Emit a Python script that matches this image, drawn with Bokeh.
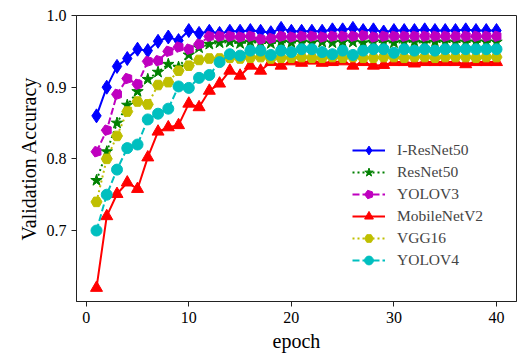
from bokeh.plotting import figure
from bokeh.models import Range1d, FixedTicker, Legend, LegendItem, ColumnDataSource, NumeralTickFormatter
from bokeh.embed import file_html
from bokeh.resources import INLINE

epochs = list(range(1, 41))

i_resnet50 = [0.860, 0.900, 0.929, 0.940, 0.953, 0.951, 0.964, 0.970, 0.965, 0.979,
              0.975, 0.978, 0.975, 0.978, 0.978, 0.979, 0.978, 0.976, 0.982, 0.978,
              0.978, 0.978, 0.978, 0.980, 0.980, 0.982, 0.979, 0.980, 0.977, 0.979,
              0.979, 0.979, 0.980, 0.979, 0.979, 0.979, 0.980, 0.979, 0.979, 0.979]
resnet50 = [0.770, 0.810, 0.850, 0.875, 0.894, 0.911, 0.921, 0.932, 0.928, 0.945,
            0.955, 0.960, 0.962, 0.963, 0.961, 0.963, 0.962, 0.961, 0.963, 0.962,
            0.963, 0.962, 0.963, 0.962, 0.963, 0.963, 0.962, 0.963, 0.963, 0.962,
            0.963, 0.963, 0.962, 0.963, 0.963, 0.963, 0.963, 0.963, 0.963, 0.963]
yolov3 = [0.810, 0.840, 0.890, 0.912, 0.904, 0.936, 0.937, 0.950, 0.956, 0.953,
          0.960, 0.971, 0.971, 0.971, 0.970, 0.971, 0.967, 0.968, 0.971, 0.970,
          0.971, 0.971, 0.970, 0.971, 0.971, 0.971, 0.972, 0.970, 0.971, 0.971,
          0.971, 0.971, 0.971, 0.971, 0.971, 0.971, 0.971, 0.971, 0.971, 0.971]
mobilenetv2 = [0.620, 0.720, 0.751, 0.767, 0.758, 0.802, 0.838, 0.844, 0.847, 0.877,
               0.872, 0.895, 0.905, 0.923, 0.916, 0.930, 0.923, 0.935, 0.930, 0.936,
               0.934, 0.937, 0.934, 0.935, 0.936, 0.930, 0.935, 0.930, 0.931, 0.935,
               0.935, 0.933, 0.935, 0.935, 0.935, 0.935, 0.932, 0.935, 0.935, 0.935]
vgg16 = [0.740, 0.800, 0.832, 0.866, 0.880, 0.876, 0.903, 0.907, 0.923, 0.930,
         0.938, 0.940, 0.940, 0.941, 0.940, 0.941, 0.942, 0.940, 0.941, 0.941,
         0.942, 0.941, 0.941, 0.942, 0.941, 0.942, 0.941, 0.941, 0.942, 0.942,
         0.941, 0.942, 0.942, 0.941, 0.942, 0.942, 0.942, 0.941, 0.942, 0.942]
yolov4 = [0.700, 0.750, 0.785, 0.815, 0.820, 0.855, 0.863, 0.870, 0.901, 0.899,
          0.913, 0.917, 0.935, 0.946, 0.944, 0.951, 0.951, 0.945, 0.951, 0.949,
          0.953, 0.953, 0.949, 0.946, 0.951, 0.945, 0.951, 0.953, 0.953, 0.948,
          0.953, 0.951, 0.953, 0.951, 0.953, 0.953, 0.953, 0.953, 0.953, 0.953]

series_names = ["I-ResNet50", "ResNet50", "YOLOV3", "MobileNetV2", "VGG16", "YOLOV4"]
x_ticks = [0, 10, 20, 30, 40]
y_ticks = [0.7, 0.8, 0.9, 1.0]

FONT = "Liberation Serif"

p = figure(width=521, height=354, output_backend="svg", toolbar_location=None,
           x_range=Range1d(-0.95, 41.95), y_range=Range1d(0.601, 1.0),
           min_border_left=76, min_border_right=5, min_border_top=15, min_border_bottom=53)
p.background_fill_color = "white"
p.border_fill_color = "white"
p.outline_line_color = "#222222"
p.outline_line_width = 1
p.grid.visible = False

for ax in (p.xaxis, p.yaxis):
    ax.major_label_text_font = FONT
    ax.major_label_text_font_size = "16px"
    ax.major_label_text_color = "black"
    ax.axis_label_text_font = FONT
    ax.axis_label_text_font_size = "20px"
    ax.axis_label_text_font_style = "normal"
    ax.axis_label_text_color = "black"
    ax.major_tick_in = 0
    ax.major_tick_out = 5
    ax.minor_tick_in = 0
    ax.minor_tick_out = 0
    ax.axis_line_color = "#222222"
    ax.major_tick_line_color = "#222222"
    ax.major_label_standoff = 5
    ax.axis_label_standoff = 4

p.xaxis.ticker = FixedTicker(ticks=x_ticks)
p.yaxis.ticker = FixedTicker(ticks=y_ticks)
p.yaxis.formatter = NumeralTickFormatter(format="0.0")
p.xaxis.axis_label = "epoch"
p.yaxis.axis_label = "Validation Accuracy"

src = ColumnDataSource(dict(x=epochs, a=i_resnet50, b=resnet50, c=yolov3,
                            d=mobilenetv2, e=vgg16, f=yolov4))

items = []

def add(col, name, color, dash, marker, size):
    l = p.line("x", col, source=src, line_color=color, line_width=2, line_dash=dash)
    if marker == "pentagon":
        if hasattr(p, "ngon"):
            m = p.ngon(x="x", y=col, source=src, radius=5.5, radius_units="screen", n=5,
                       angle=1.5707963, fill_color=color, line_color=color)
        else:
            m = p.scatter("x", col, source=src, marker="hex", size=size,
                          fill_color=color, line_color=color)
    else:
        m = p.scatter("x", col, source=src, marker=marker, size=size,
                      fill_color=color, line_color=color)
    items.append(LegendItem(label=name, renderers=[l, m]))

add("a", series_names[0], "#0000ff", "solid", "diamond", 14)
add("b", series_names[1], "#008000", "2 3", "star", 12)
add("c", series_names[2], "#bf00bf", "7 3", "pentagon", 11)
add("d", series_names[3], "#ff0000", "solid", "triangle", 12)
add("e", series_names[4], "#bfbf00", "2 3", "hex", 11)
add("f", series_names[5], "#00bfbf", "7 3", "circle", 11)

legend = Legend(items=items, location=(276, 30), padding=0, margin=0,
                spacing=0, glyph_width=33, glyph_height=22, label_height=22,
                label_standoff=12, label_text_font=FONT, label_text_font_size="15.5px",
                border_line_alpha=0, background_fill_alpha=0)
p.add_layout(legend, "center")

open("out.html", "w").write(file_html(p, INLINE))
